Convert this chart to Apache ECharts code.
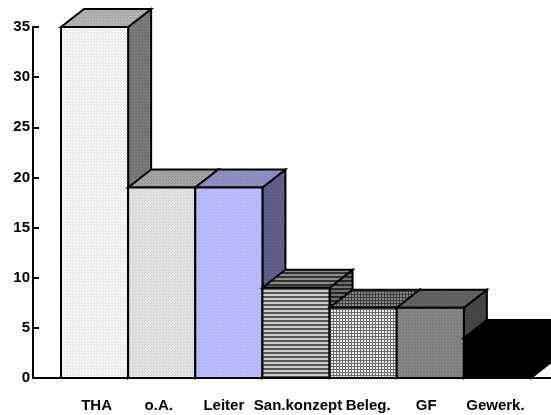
<!DOCTYPE html>
<html>
<head>
<meta charset="utf-8">
<style>html,body{margin:0;padding:0;background:#fff}#chart{width:551px;height:415px}</style>
<script src="https://cdn.jsdelivr.net/npm/echarts@6/dist/echarts.min.js"></script>
</head>
<body>
<div id="chart"></div>
<script>
const categories = ['THA', 'o.A.', 'Leiter', 'San.konzept', 'Beleg.', 'GF', 'Gewerk.'];
const values = [35, 19, 19, 9, 7, 7, 4];
const yTicks = { min: 0, max: 35, interval: 5 };

// Horizontal label placement relative to the column centre, in pixels.
const labelShift = [2, -3, -5, 2, 5, -4, -2];

// Oblique extrusion of each column, in pixels.
const DEPTH_X = 23;
const DEPTH_Y = 18;

// Small repeating tiles standing in for the print-style fills.
function tile(w, h, base, paint) {
  const c = document.createElement('canvas');
  c.width = w; c.height = h;
  const g = c.getContext('2d');
  g.fillStyle = base;
  g.fillRect(0, 0, w, h);
  g.fillStyle = paint.color;
  paint.cells.forEach(p => g.fillRect(p[0], p[1], p[2] || 1, p[3] || 1));
  return { image: c, repeat: 'repeat' };
}
const dots = (base, color) => tile(3, 3, base, { color, cells: [[0, 0], [1, 2]] });
const stripes = (base, color) => tile(1, 4, base, { color, cells: [[0, 0, 1, 2]] });
const mesh = (base, color) => tile(3, 3, base, { color, cells: [[0, 0, 3, 1], [0, 0, 1, 3]] });

const faces = [
  { front: dots('#f6f6f6', '#dcdcdc'), top: dots('#b4b4b4', '#9c9c9c'), side: dots('#7c7c7c', '#666666') },
  { front: dots('#e4e4e4', '#cfcfcf'), top: dots('#a4a4a4', '#8e8e8e'), side: dots('#7c7c7c', '#666666') },
  { front: dots('#bcbcff', '#aeaef2'), top: dots('#9090c4', '#8282b4'), side: dots('#60608c', '#545480') },
  { front: stripes('#cfcfcf', '#565656'), top: stripes('#8c8c8c', '#333333'), side: stripes('#707070', '#262626') },
  { front: mesh('#f0f0f0', '#6a6a6a'), top: mesh('#8a8a8a', '#3c3c3c'), side: mesh('#808080', '#333333') },
  { front: dots('#868686', '#747474'), top: dots('#646464', '#585858'), side: dots('#484848', '#3c3c3c') },
  { front: '#000000', top: '#000000', side: '#000000' }
];

function renderColumn(params, api) {
  const i = api.value(0);
  const top = api.coord([i, api.value(1)]);
  const base = api.coord([i, 0]);
  const w = api.size([1, 0])[0];
  const x0 = top[0] - w / 2;
  const x1 = top[0] + w / 2;
  const f = faces[i];
  const stroke = { stroke: '#000', lineWidth: 2, lineJoin: 'miter' };
  const face = (points, fill) => ({
    type: 'polygon',
    shape: { points },
    style: Object.assign({ fill }, stroke)
  });
  return {
    type: 'group',
    children: [
      face([[x1, top[1]], [x1 + DEPTH_X, top[1] - DEPTH_Y], [x1 + DEPTH_X, base[1] - DEPTH_Y], [x1, base[1]]], f.side),
      face([[x0, top[1]], [x0 + DEPTH_X, top[1] - DEPTH_Y], [x1 + DEPTH_X, top[1] - DEPTH_Y], [x1, top[1]]], f.top),
      face([[x0, top[1]], [x1, top[1]], [x1, base[1]], [x0, base[1]]], f.front)
    ]
  };
}

// Asymmetric padding moves a centred label sideways by half the padding.
const categoryItems = categories.map((name, i) => ({
  value: name,
  textStyle: {
    padding: [0, Math.max(0, -labelShift[i] * 2), 0, Math.max(0, labelShift[i] * 2)]
  }
}));

const chart = echarts.init(document.getElementById('chart'), null, { renderer: 'canvas' });
chart.setOption({
  animation: false,
  backgroundColor: '#fff',
  grid: [
    { left: 61, top: 27, width: 470, height: 351 },
    // Wider frame that carries the full-length baseline.
    { left: 33, top: 27, right: 0, height: 351 }
  ],
  xAxis: [
    {
      type: 'category',
      gridIndex: 0,
      data: categoryItems,
      axisLine: { show: false },
      axisTick: { show: false },
      axisLabel: {
        interval: 0, margin: 20, color: '#000', hideOverlap: false,
        fontFamily: 'Liberation Sans', fontWeight: 'bold', fontSize: 15
      }
    },
    {
      type: 'value',
      gridIndex: 1,
      min: 0, max: 1,
      splitLine: { show: false },
      axisTick: { show: false },
      axisLabel: { show: false },
      axisLine: { lineStyle: { color: '#000', width: 2 } }
    }
  ],
  yAxis: [
    {
      type: 'value',
      gridIndex: 0,
      min: yTicks.min, max: yTicks.max, interval: yTicks.interval,
      offset: 28,
      splitLine: { show: false },
      axisLine: { show: true, lineStyle: { color: '#000', width: 2 } },
      axisTick: { show: true, inside: true, length: 6, lineStyle: { color: '#000', width: 2 } },
      axisLabel: {
        margin: 3, color: '#000',
        fontFamily: 'Liberation Sans', fontWeight: 'bold', fontSize: 15
      }
    },
    { type: 'value', gridIndex: 1, min: 0, max: 1, show: false }
  ],
  series: [{
    type: 'custom',
    xAxisIndex: 0,
    yAxisIndex: 0,
    clip: false,
    renderItem: renderColumn,
    encode: { x: 0, y: 1 },
    data: values.map((v, i) => [i, v])
  }]
});
</script>
</body>
</html>
